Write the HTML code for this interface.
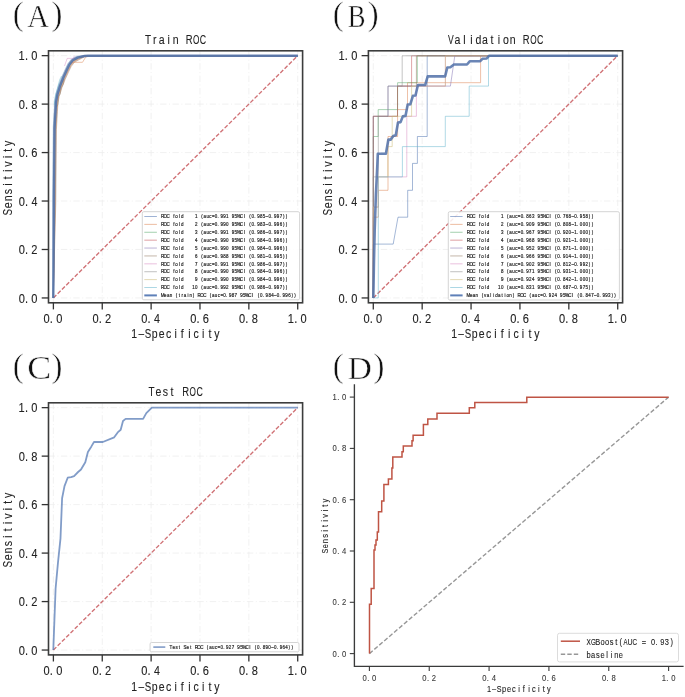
<!DOCTYPE html>
<html><head><meta charset="utf-8"><title>ROC curves</title>
<style>html,body{margin:0;padding:0;background:#fff;}svg{display:block;will-change:transform;}</style>
</head><body>
<svg width="685" height="697" viewBox="0 0 685 697">
<rect width="685" height="697" fill="#fff"/>
<line x1="53.39" y1="50.80" x2="53.39" y2="302.80" stroke="#eeeeee" stroke-width="0.8" stroke-dasharray="6.4,2.5,1,2.5"/>
<line x1="48.50" y1="297.95" x2="302.60" y2="297.95" stroke="#eeeeee" stroke-width="0.8" stroke-dasharray="6.4,2.5,1,2.5"/>
<line x1="102.25" y1="50.80" x2="102.25" y2="302.80" stroke="#eeeeee" stroke-width="0.8" stroke-dasharray="6.4,2.5,1,2.5"/>
<line x1="48.50" y1="249.49" x2="302.60" y2="249.49" stroke="#eeeeee" stroke-width="0.8" stroke-dasharray="6.4,2.5,1,2.5"/>
<line x1="151.12" y1="50.80" x2="151.12" y2="302.80" stroke="#eeeeee" stroke-width="0.8" stroke-dasharray="6.4,2.5,1,2.5"/>
<line x1="48.50" y1="201.03" x2="302.60" y2="201.03" stroke="#eeeeee" stroke-width="0.8" stroke-dasharray="6.4,2.5,1,2.5"/>
<line x1="199.98" y1="50.80" x2="199.98" y2="302.80" stroke="#eeeeee" stroke-width="0.8" stroke-dasharray="6.4,2.5,1,2.5"/>
<line x1="48.50" y1="152.57" x2="302.60" y2="152.57" stroke="#eeeeee" stroke-width="0.8" stroke-dasharray="6.4,2.5,1,2.5"/>
<line x1="248.85" y1="50.80" x2="248.85" y2="302.80" stroke="#eeeeee" stroke-width="0.8" stroke-dasharray="6.4,2.5,1,2.5"/>
<line x1="48.50" y1="104.11" x2="302.60" y2="104.11" stroke="#eeeeee" stroke-width="0.8" stroke-dasharray="6.4,2.5,1,2.5"/>
<line x1="297.71" y1="50.80" x2="297.71" y2="302.80" stroke="#eeeeee" stroke-width="0.8" stroke-dasharray="6.4,2.5,1,2.5"/>
<line x1="48.50" y1="55.65" x2="302.60" y2="55.65" stroke="#eeeeee" stroke-width="0.8" stroke-dasharray="6.4,2.5,1,2.5"/>
<path d="M53.39,297.95 L297.71,55.65" fill="none" stroke="#C44E52" stroke-width="1.35" stroke-opacity="0.8" stroke-dasharray="4.13,1.9" stroke-linejoin="round" stroke-linecap="butt"/>
<path d="M53.30,297.90 L53.10,199.10 L53.70,127.10 L54.70,109.10 L55.20,100.70 L56.50,93.80 L59.10,85.20 L62.50,76.60 L66.00,68.90 L68.50,63.70 L71.90,59.40 L76.90,56.70 L83.60,55.80 L87.10,55.80 L297.90,55.80" fill="none" stroke="#4C72B0" stroke-width="0.9" stroke-opacity="0.5" stroke-linejoin="round" stroke-linecap="butt"/>
<path d="M53.30,297.90 L54.90,200.90 L55.50,128.90 L56.50,110.90 L57.00,102.50 L58.30,95.60 L60.90,87.00 L64.30,78.40 L67.80,70.70 L70.30,65.50 L73.70,61.20 L78.70,58.50 L85.40,55.80 L88.90,55.80 L297.90,55.80" fill="none" stroke="#DD8452" stroke-width="0.9" stroke-opacity="0.5" stroke-linejoin="round" stroke-linecap="butt"/>
<path d="M53.30,297.90 L53.60,199.60 L54.20,127.60 L55.20,109.60 L55.70,101.20 L57.00,94.30 L59.60,85.70 L63.00,77.10 L66.50,69.40 L69.00,64.20 L72.40,59.90 L77.40,57.20 L84.10,55.80 L87.60,55.80 L297.90,55.80" fill="none" stroke="#55A868" stroke-width="0.9" stroke-opacity="0.5" stroke-linejoin="round" stroke-linecap="butt"/>
<path d="M53.30,297.90 L55.30,201.30 L55.90,129.30 L56.90,111.30 L57.40,102.90 L58.70,96.00 L61.30,87.40 L64.70,78.80 L68.20,71.10 L70.70,65.90 L74.10,61.60 L79.10,58.90 L85.80,55.80 L89.30,55.80 L297.90,55.80" fill="none" stroke="#C44E52" stroke-width="0.9" stroke-opacity="0.5" stroke-linejoin="round" stroke-linecap="butt"/>
<path d="M53.30,297.90 L54.30,200.30 L54.90,128.30 L55.90,110.30 L56.40,101.90 L57.70,95.00 L60.30,86.40 L63.70,77.80 L67.20,70.10 L69.70,64.90 L73.10,60.60 L78.10,57.90 L84.80,55.80 L88.30,55.80 L297.90,55.80" fill="none" stroke="#8172B3" stroke-width="0.9" stroke-opacity="0.5" stroke-linejoin="round" stroke-linecap="butt"/>
<path d="M53.30,297.90 L55.80,201.80 L56.40,129.80 L57.40,111.80 L57.90,103.40 L59.20,96.50 L61.80,87.90 L65.20,79.30 L68.70,71.60 L71.20,66.40 L74.60,62.10 L79.60,59.40 L86.30,55.80 L89.80,55.80 L297.90,55.80" fill="none" stroke="#937860" stroke-width="0.9" stroke-opacity="0.5" stroke-linejoin="round" stroke-linecap="butt"/>
<path d="M53.30,297.90 L52.90,198.90 L53.50,126.90 L54.50,108.90 L55.00,100.50 L56.30,93.60 L58.90,85.00 L62.30,76.40 L65.80,68.70 L68.30,63.50 L71.70,59.20 L76.70,56.50 L83.40,55.80 L86.90,55.80 L297.90,55.80" fill="none" stroke="#DA8BC3" stroke-width="0.9" stroke-opacity="0.5" stroke-linejoin="round" stroke-linecap="butt"/>
<path d="M53.30,297.90 L54.60,200.60 L55.20,128.60 L56.20,110.60 L56.70,102.20 L58.00,95.30 L60.60,86.70 L64.00,78.10 L67.50,70.40 L70.00,65.20 L73.40,60.90 L78.40,58.20 L85.10,55.80 L88.60,55.80 L297.90,55.80" fill="none" stroke="#8C8C8C" stroke-width="0.9" stroke-opacity="0.5" stroke-linejoin="round" stroke-linecap="butt"/>
<path d="M53.30,297.90 L55.10,201.10 L55.70,129.10 L56.70,111.10 L57.20,102.70 L58.50,95.80 L61.10,87.20 L64.50,78.60 L68.00,70.90 L70.50,65.70 L73.90,61.40 L78.90,58.70 L85.60,55.80 L89.10,55.80 L297.90,55.80" fill="none" stroke="#CCB974" stroke-width="0.9" stroke-opacity="0.5" stroke-linejoin="round" stroke-linecap="butt"/>
<path d="M53.30,297.90 L52.70,198.70 L53.30,126.70 L54.30,108.70 L54.80,100.30 L56.10,93.40 L58.70,84.80 L62.10,76.20 L65.60,68.50 L68.10,63.30 L71.50,59.00 L76.50,56.30 L83.20,55.80 L86.70,55.80 L297.90,55.80" fill="none" stroke="#64B5CD" stroke-width="0.9" stroke-opacity="0.5" stroke-linejoin="round" stroke-linecap="butt"/>
<path d="M70.50,63.50 L72.80,62.30 L82.50,62.30 L85.50,57.40 L88.00,55.90" fill="none" stroke="#DD8452" stroke-width="0.9" stroke-opacity="0.55" stroke-linejoin="round" stroke-linecap="butt"/>
<path d="M64.50,66.00 L67.20,58.40 L73.80,58.40 L74.20,55.80" fill="none" stroke="#DA8BC3" stroke-width="0.9" stroke-opacity="0.5" stroke-linejoin="round" stroke-linecap="butt"/>
<path d="M56.50,107.00 L58.20,104.00 L58.40,96.00 L60.30,94.00 L61.00,88.00 L63.50,84.00 L64.00,79.00" fill="none" stroke="#937860" stroke-width="0.9" stroke-opacity="0.45" stroke-linejoin="round" stroke-linecap="butt"/>
<path d="M54.20,105.00 L55.30,96.00 L57.50,88.00 L59.60,80.00 L61.50,76.00" fill="none" stroke="#64B5CD" stroke-width="0.9" stroke-opacity="0.5" stroke-linejoin="round" stroke-linecap="butt"/>
<path d="M53.30,297.90 L54.00,200.00 L54.60,128.00 L55.60,110.00 L56.10,101.60 L57.40,94.70 L60.00,86.10 L63.40,77.50 L66.90,69.80 L69.40,64.60 L72.80,60.30 L77.80,57.60 L84.50,56.00 L88.00,55.80 L297.90,55.80" fill="none" stroke="#5070A8" stroke-width="2.4" stroke-opacity="0.85" stroke-linejoin="round" stroke-linecap="butt"/>
<rect x="48.50" y="50.80" width="254.10" height="252.00" fill="none" stroke="#3c3d3d" stroke-width="1.6"/>
<line x1="53.39" y1="302.80" x2="53.39" y2="309.40" stroke="#333" stroke-width="1.3"/>
<line x1="48.50" y1="297.95" x2="41.70" y2="297.95" stroke="#333" stroke-width="1.3"/>
<g transform="translate(52.99 323.20)" font-family='"Liberation Sans", sans-serif' font-size="12.3" fill="#222" stroke="#222" stroke-width="0.1"><text transform="scale(0.900 1)" x="-10.43" y="0">0</text><text transform="scale(0.900 1)" x="-3.47" y="0">.</text><text transform="scale(0.900 1)" x="3.57" y="0">0</text></g>
<g transform="translate(37.50 302.75)" font-family='"Liberation Sans", sans-serif' font-size="12.3" fill="#222" stroke="#222" stroke-width="0.1"><text transform="scale(0.900 1)" x="-20.93" y="0">0</text><text transform="scale(0.900 1)" x="-13.97" y="0">.</text><text transform="scale(0.900 1)" x="-6.93" y="0">0</text></g>
<line x1="102.25" y1="302.80" x2="102.25" y2="309.40" stroke="#333" stroke-width="1.3"/>
<line x1="48.50" y1="249.49" x2="41.70" y2="249.49" stroke="#333" stroke-width="1.3"/>
<g transform="translate(101.85 323.20)" font-family='"Liberation Sans", sans-serif' font-size="12.3" fill="#222" stroke="#222" stroke-width="0.1"><text transform="scale(0.900 1)" x="-10.43" y="0">0</text><text transform="scale(0.900 1)" x="-3.47" y="0">.</text><text transform="scale(0.900 1)" x="3.59" y="0">2</text></g>
<g transform="translate(37.50 254.29)" font-family='"Liberation Sans", sans-serif' font-size="12.3" fill="#222" stroke="#222" stroke-width="0.1"><text transform="scale(0.900 1)" x="-20.93" y="0">0</text><text transform="scale(0.900 1)" x="-13.97" y="0">.</text><text transform="scale(0.900 1)" x="-6.91" y="0">2</text></g>
<line x1="151.12" y1="302.80" x2="151.12" y2="309.40" stroke="#333" stroke-width="1.3"/>
<line x1="48.50" y1="201.03" x2="41.70" y2="201.03" stroke="#333" stroke-width="1.3"/>
<g transform="translate(150.72 323.20)" font-family='"Liberation Sans", sans-serif' font-size="12.3" fill="#222" stroke="#222" stroke-width="0.1"><text transform="scale(0.900 1)" x="-10.43" y="0">0</text><text transform="scale(0.900 1)" x="-3.47" y="0">.</text><text transform="scale(0.869 1)" x="3.86" y="0">4</text></g>
<g transform="translate(37.50 205.83)" font-family='"Liberation Sans", sans-serif' font-size="12.3" fill="#222" stroke="#222" stroke-width="0.1"><text transform="scale(0.900 1)" x="-20.93" y="0">0</text><text transform="scale(0.900 1)" x="-13.97" y="0">.</text><text transform="scale(0.869 1)" x="-7.01" y="0">4</text></g>
<line x1="199.98" y1="302.80" x2="199.98" y2="309.40" stroke="#333" stroke-width="1.3"/>
<line x1="48.50" y1="152.57" x2="41.70" y2="152.57" stroke="#333" stroke-width="1.3"/>
<g transform="translate(199.58 323.20)" font-family='"Liberation Sans", sans-serif' font-size="12.3" fill="#222" stroke="#222" stroke-width="0.1"><text transform="scale(0.900 1)" x="-10.43" y="0">0</text><text transform="scale(0.900 1)" x="-3.47" y="0">.</text><text transform="scale(0.900 1)" x="3.54" y="0">6</text></g>
<g transform="translate(37.50 157.37)" font-family='"Liberation Sans", sans-serif' font-size="12.3" fill="#222" stroke="#222" stroke-width="0.1"><text transform="scale(0.900 1)" x="-20.93" y="0">0</text><text transform="scale(0.900 1)" x="-13.97" y="0">.</text><text transform="scale(0.900 1)" x="-6.96" y="0">6</text></g>
<line x1="248.85" y1="302.80" x2="248.85" y2="309.40" stroke="#333" stroke-width="1.3"/>
<line x1="48.50" y1="104.11" x2="41.70" y2="104.11" stroke="#333" stroke-width="1.3"/>
<g transform="translate(248.45 323.20)" font-family='"Liberation Sans", sans-serif' font-size="12.3" fill="#222" stroke="#222" stroke-width="0.1"><text transform="scale(0.900 1)" x="-10.43" y="0">0</text><text transform="scale(0.900 1)" x="-3.47" y="0">.</text><text transform="scale(0.900 1)" x="3.59" y="0">8</text></g>
<g transform="translate(37.50 108.91)" font-family='"Liberation Sans", sans-serif' font-size="12.3" fill="#222" stroke="#222" stroke-width="0.1"><text transform="scale(0.900 1)" x="-20.93" y="0">0</text><text transform="scale(0.900 1)" x="-13.97" y="0">.</text><text transform="scale(0.900 1)" x="-6.91" y="0">8</text></g>
<line x1="297.71" y1="302.80" x2="297.71" y2="309.40" stroke="#333" stroke-width="1.3"/>
<line x1="48.50" y1="55.65" x2="41.70" y2="55.65" stroke="#333" stroke-width="1.3"/>
<g transform="translate(297.31 323.20)" font-family='"Liberation Sans", sans-serif' font-size="12.3" fill="#222" stroke="#222" stroke-width="0.1"><text transform="scale(0.900 1)" x="-10.58" y="0">1</text><text transform="scale(0.900 1)" x="-3.47" y="0">.</text><text transform="scale(0.900 1)" x="3.57" y="0">0</text></g>
<g transform="translate(37.50 60.45)" font-family='"Liberation Sans", sans-serif' font-size="12.3" fill="#222" stroke="#222" stroke-width="0.1"><text transform="scale(0.900 1)" x="-21.08" y="0">1</text><text transform="scale(0.900 1)" x="-13.97" y="0">.</text><text transform="scale(0.900 1)" x="-6.93" y="0">0</text></g>
<g transform="translate(175.55 338.40)" font-family='"Liberation Sans", sans-serif' font-size="13.5" fill="#222" stroke="#222" stroke-width="0.1"><text transform="scale(0.780 1)" x="-56.85" y="0">1</text><text transform="scale(0.747 1)" x="-49.77" y="0">–</text><text transform="scale(0.721 1)" x="-42.64" y="0">S</text><text transform="scale(0.780 1)" x="-30.38" y="0">p</text><text transform="scale(0.780 1)" x="-21.39" y="0">e</text><text transform="scale(0.780 1)" x="-12.30" y="0">c</text><text transform="scale(0.780 1)" x="-1.50" y="0">i</text><text transform="scale(0.780 1)" x="6.83" y="0">f</text><text transform="scale(0.780 1)" x="16.14" y="0">i</text><text transform="scale(0.780 1)" x="22.99" y="0">c</text><text transform="scale(0.780 1)" x="33.78" y="0">i</text><text transform="scale(0.780 1)" x="42.18" y="0">t</text><text transform="scale(0.780 1)" x="49.55" y="0">y</text></g>
<g transform="translate(12.20 177.80) rotate(-90)" font-family='"Liberation Sans", sans-serif' font-size="13.5" fill="#222" stroke="#222" stroke-width="0.1"><text transform="scale(0.721 1)" x="-52.17" y="0">S</text><text transform="scale(0.780 1)" x="-39.03" y="0">e</text><text transform="scale(0.780 1)" x="-30.22" y="0">n</text><text transform="scale(0.780 1)" x="-20.97" y="0">s</text><text transform="scale(0.780 1)" x="-10.32" y="0">i</text><text transform="scale(0.780 1)" x="-1.92" y="0">t</text><text transform="scale(0.780 1)" x="7.32" y="0">i</text><text transform="scale(0.780 1)" x="14.27" y="0">v</text><text transform="scale(0.780 1)" x="24.96" y="0">i</text><text transform="scale(0.780 1)" x="33.36" y="0">t</text><text transform="scale(0.780 1)" x="40.73" y="0">y</text></g>
<g transform="translate(175.55 43.90)" font-family='"Liberation Sans", sans-serif' font-size="13.5" fill="#222" stroke="#222" stroke-width="0.1"><text transform="scale(0.734 1)" x="-41.60" y="0">T</text><text transform="scale(0.780 1)" x="-29.06" y="0">r</text><text transform="scale(0.780 1)" x="-21.67" y="0">a</text><text transform="scale(0.780 1)" x="-10.32" y="0">i</text><text transform="scale(0.780 1)" x="-3.76" y="0">n</text><text transform="scale(0.700 1)" x="14.54" y="0">R</text><text transform="scale(0.608 1)" x="28.71" y="0">O</text><text transform="scale(0.656 1)" x="37.02" y="0">C</text></g>
<rect x="142.30" y="211.70" width="157.30" height="88.10" rx="1.5" fill="#fff" fill-opacity="0.85" stroke="#d0d0d0" stroke-width="0.9"/>
<line x1="144.30" y1="216.50" x2="156.90" y2="216.50" stroke="#4C72B0" stroke-width="0.9" stroke-opacity="0.6"/>
<text transform="translate(161.10 218.20) scale(0.8 1)" x="-0.26 3.11 6.79 11.56 15.08 17.83 22.29 24.88 29.18 32.71 36.23 39.76 42.51 46.81 50.18 53.08 56.61 60.29 63.58 67.18 70.60 74.23 77.76 81.28 85.58 88.33 91.86 94.45 98.44 103.21 106.73 110.11 113.01 116.43 120.06 123.58 127.11 130.63 134.16 137.58 141.21 144.73 148.26 152.41 155.93" y="0" font-family='"Liberation Sans", sans-serif' font-size="5.6" fill="#2a2a2a" stroke="#2a2a2a" stroke-width="0.22" xml:space="preserve">ROC fold    1 (auc=0.991 95%CI (0.985–0.997))</text>
<line x1="144.30" y1="224.39" x2="156.90" y2="224.39" stroke="#DD8452" stroke-width="0.9" stroke-opacity="0.6"/>
<text transform="translate(161.10 226.09) scale(0.8 1)" x="-0.26 3.11 6.79 11.56 15.08 17.83 22.29 24.88 29.18 32.71 36.23 39.76 42.51 46.81 50.18 53.08 56.61 60.29 63.58 67.18 70.60 74.23 77.76 81.28 85.58 88.33 91.86 94.45 98.44 103.21 106.73 110.11 113.01 116.43 120.06 123.58 127.11 130.63 134.16 137.58 141.21 144.73 148.26 152.41 155.93" y="0" font-family='"Liberation Sans", sans-serif' font-size="5.6" fill="#2a2a2a" stroke="#2a2a2a" stroke-width="0.22" xml:space="preserve">ROC fold    2 (auc=0.990 95%CI (0.983–0.996))</text>
<line x1="144.30" y1="232.28" x2="156.90" y2="232.28" stroke="#55A868" stroke-width="0.9" stroke-opacity="0.6"/>
<text transform="translate(161.10 233.98) scale(0.8 1)" x="-0.26 3.11 6.79 11.56 15.08 17.83 22.29 24.88 29.18 32.71 36.23 39.76 42.51 46.81 50.18 53.08 56.61 60.29 63.58 67.18 70.60 74.23 77.76 81.28 85.58 88.33 91.86 94.45 98.44 103.21 106.73 110.11 113.01 116.43 120.06 123.58 127.11 130.63 134.16 137.58 141.21 144.73 148.26 152.41 155.93" y="0" font-family='"Liberation Sans", sans-serif' font-size="5.6" fill="#2a2a2a" stroke="#2a2a2a" stroke-width="0.22" xml:space="preserve">ROC fold    3 (auc=0.991 95%CI (0.986–0.997))</text>
<line x1="144.30" y1="240.17" x2="156.90" y2="240.17" stroke="#C44E52" stroke-width="0.9" stroke-opacity="0.6"/>
<text transform="translate(161.10 241.87) scale(0.8 1)" x="-0.26 3.11 6.79 11.56 15.08 17.83 22.29 24.88 29.18 32.71 36.23 39.76 42.51 46.81 50.18 53.08 56.61 60.29 63.58 67.18 70.60 74.23 77.76 81.28 85.58 88.33 91.86 94.45 98.44 103.21 106.73 110.11 113.01 116.43 120.06 123.58 127.11 130.63 134.16 137.58 141.21 144.73 148.26 152.41 155.93" y="0" font-family='"Liberation Sans", sans-serif' font-size="5.6" fill="#2a2a2a" stroke="#2a2a2a" stroke-width="0.22" xml:space="preserve">ROC fold    4 (auc=0.990 95%CI (0.984–0.996))</text>
<line x1="144.30" y1="248.06" x2="156.90" y2="248.06" stroke="#8172B3" stroke-width="0.9" stroke-opacity="0.6"/>
<text transform="translate(161.10 249.76) scale(0.8 1)" x="-0.26 3.11 6.79 11.56 15.08 17.83 22.29 24.88 29.18 32.71 36.23 39.76 42.51 46.81 50.18 53.08 56.61 60.29 63.58 67.18 70.60 74.23 77.76 81.28 85.58 88.33 91.86 94.45 98.44 103.21 106.73 110.11 113.01 116.43 120.06 123.58 127.11 130.63 134.16 137.58 141.21 144.73 148.26 152.41 155.93" y="0" font-family='"Liberation Sans", sans-serif' font-size="5.6" fill="#2a2a2a" stroke="#2a2a2a" stroke-width="0.22" xml:space="preserve">ROC fold    5 (auc=0.990 95%CI (0.984–0.996))</text>
<line x1="144.30" y1="255.95" x2="156.90" y2="255.95" stroke="#937860" stroke-width="0.9" stroke-opacity="0.6"/>
<text transform="translate(161.10 257.65) scale(0.8 1)" x="-0.26 3.11 6.79 11.56 15.08 17.83 22.29 24.88 29.18 32.71 36.23 39.76 42.51 46.81 50.18 53.08 56.61 60.29 63.58 67.18 70.60 74.23 77.76 81.28 85.58 88.33 91.86 94.45 98.44 103.21 106.73 110.11 113.01 116.43 120.06 123.58 127.11 130.63 134.16 137.58 141.21 144.73 148.26 152.41 155.93" y="0" font-family='"Liberation Sans", sans-serif' font-size="5.6" fill="#2a2a2a" stroke="#2a2a2a" stroke-width="0.22" xml:space="preserve">ROC fold    6 (auc=0.988 95%CI (0.981–0.995))</text>
<line x1="144.30" y1="263.84" x2="156.90" y2="263.84" stroke="#DA8BC3" stroke-width="0.9" stroke-opacity="0.6"/>
<text transform="translate(161.10 265.54) scale(0.8 1)" x="-0.26 3.11 6.79 11.56 15.08 17.83 22.29 24.88 29.18 32.71 36.23 39.76 42.51 46.81 50.18 53.08 56.61 60.29 63.58 67.18 70.60 74.23 77.76 81.28 85.58 88.33 91.86 94.45 98.44 103.21 106.73 110.11 113.01 116.43 120.06 123.58 127.11 130.63 134.16 137.58 141.21 144.73 148.26 152.41 155.93" y="0" font-family='"Liberation Sans", sans-serif' font-size="5.6" fill="#2a2a2a" stroke="#2a2a2a" stroke-width="0.22" xml:space="preserve">ROC fold    7 (auc=0.991 95%CI (0.986–0.997))</text>
<line x1="144.30" y1="271.73" x2="156.90" y2="271.73" stroke="#8C8C8C" stroke-width="0.9" stroke-opacity="0.6"/>
<text transform="translate(161.10 273.43) scale(0.8 1)" x="-0.26 3.11 6.79 11.56 15.08 17.83 22.29 24.88 29.18 32.71 36.23 39.76 42.51 46.81 50.18 53.08 56.61 60.29 63.58 67.18 70.60 74.23 77.76 81.28 85.58 88.33 91.86 94.45 98.44 103.21 106.73 110.11 113.01 116.43 120.06 123.58 127.11 130.63 134.16 137.58 141.21 144.73 148.26 152.41 155.93" y="0" font-family='"Liberation Sans", sans-serif' font-size="5.6" fill="#2a2a2a" stroke="#2a2a2a" stroke-width="0.22" xml:space="preserve">ROC fold    8 (auc=0.990 95%CI (0.984–0.996))</text>
<line x1="144.30" y1="279.62" x2="156.90" y2="279.62" stroke="#CCB974" stroke-width="0.9" stroke-opacity="0.6"/>
<text transform="translate(161.10 281.32) scale(0.8 1)" x="-0.26 3.11 6.79 11.56 15.08 17.83 22.29 24.88 29.18 32.71 36.23 39.76 42.51 46.81 50.18 53.08 56.61 60.29 63.58 67.18 70.60 74.23 77.76 81.28 85.58 88.33 91.86 94.45 98.44 103.21 106.73 110.11 113.01 116.43 120.06 123.58 127.11 130.63 134.16 137.58 141.21 144.73 148.26 152.41 155.93" y="0" font-family='"Liberation Sans", sans-serif' font-size="5.6" fill="#2a2a2a" stroke="#2a2a2a" stroke-width="0.22" xml:space="preserve">ROC fold    9 (auc=0.990 95%CI (0.984–0.996))</text>
<line x1="144.30" y1="287.51" x2="156.90" y2="287.51" stroke="#64B5CD" stroke-width="0.9" stroke-opacity="0.6"/>
<text transform="translate(161.10 289.21) scale(0.8 1)" x="-0.26 3.11 6.79 11.56 15.08 17.83 22.29 24.88 29.18 32.71 36.23 38.98 42.51 46.81 50.18 53.08 56.61 60.29 63.58 67.18 70.60 74.23 77.76 81.28 85.58 88.33 91.86 94.45 98.44 103.21 106.73 110.11 113.01 116.43 120.06 123.58 127.11 130.63 134.16 137.58 141.21 144.73 148.26 152.41 155.93" y="0" font-family='"Liberation Sans", sans-serif' font-size="5.6" fill="#2a2a2a" stroke="#2a2a2a" stroke-width="0.22" xml:space="preserve">ROC fold   10 (auc=0.992 95%CI (0.986–0.997))</text>
<line x1="144.30" y1="295.40" x2="156.90" y2="295.40" stroke="#4C72B0" stroke-width="2.0" stroke-opacity="0.9"/>
<text transform="translate(161.10 297.10) scale(0.8 1)" x="-0.57 3.73 7.26 10.78 15.08 18.46 22.13 25.51 28.41 32.87 35.46 39.61 43.28 45.57 48.93 52.62 57.38 60.76 63.66 67.18 70.86 74.15 77.76 81.18 84.81 88.33 91.86 96.16 98.91 102.43 105.02 109.02 113.78 117.31 120.68 123.58 127.00 130.63 134.16 137.68 141.21 144.73 148.15 151.78 155.31 158.83 162.98 166.51" y="0" font-family='"Liberation Sans", sans-serif' font-size="5.6" fill="#2a2a2a" stroke="#2a2a2a" stroke-width="0.22" xml:space="preserve">Mean (train) ROC (auc=0.987 95%CI (0.984–0.996))</text>
<line x1="373.29" y1="50.80" x2="373.29" y2="302.80" stroke="#eeeeee" stroke-width="0.8" stroke-dasharray="6.4,2.5,1,2.5"/>
<line x1="368.40" y1="297.95" x2="622.60" y2="297.95" stroke="#eeeeee" stroke-width="0.8" stroke-dasharray="6.4,2.5,1,2.5"/>
<line x1="422.17" y1="50.80" x2="422.17" y2="302.80" stroke="#eeeeee" stroke-width="0.8" stroke-dasharray="6.4,2.5,1,2.5"/>
<line x1="368.40" y1="249.49" x2="622.60" y2="249.49" stroke="#eeeeee" stroke-width="0.8" stroke-dasharray="6.4,2.5,1,2.5"/>
<line x1="471.06" y1="50.80" x2="471.06" y2="302.80" stroke="#eeeeee" stroke-width="0.8" stroke-dasharray="6.4,2.5,1,2.5"/>
<line x1="368.40" y1="201.03" x2="622.60" y2="201.03" stroke="#eeeeee" stroke-width="0.8" stroke-dasharray="6.4,2.5,1,2.5"/>
<line x1="519.94" y1="50.80" x2="519.94" y2="302.80" stroke="#eeeeee" stroke-width="0.8" stroke-dasharray="6.4,2.5,1,2.5"/>
<line x1="368.40" y1="152.57" x2="622.60" y2="152.57" stroke="#eeeeee" stroke-width="0.8" stroke-dasharray="6.4,2.5,1,2.5"/>
<line x1="568.83" y1="50.80" x2="568.83" y2="302.80" stroke="#eeeeee" stroke-width="0.8" stroke-dasharray="6.4,2.5,1,2.5"/>
<line x1="368.40" y1="104.11" x2="622.60" y2="104.11" stroke="#eeeeee" stroke-width="0.8" stroke-dasharray="6.4,2.5,1,2.5"/>
<line x1="617.71" y1="50.80" x2="617.71" y2="302.80" stroke="#eeeeee" stroke-width="0.8" stroke-dasharray="6.4,2.5,1,2.5"/>
<line x1="368.40" y1="55.65" x2="622.60" y2="55.65" stroke="#eeeeee" stroke-width="0.8" stroke-dasharray="6.4,2.5,1,2.5"/>
<path d="M373.29,297.95 L617.71,55.65" fill="none" stroke="#C44E52" stroke-width="1.35" stroke-opacity="0.8" stroke-dasharray="4.13,1.9" stroke-linejoin="round" stroke-linecap="butt"/>
<path d="M373.30,297.90 L373.30,244.10 L393.20,244.10 L398.00,217.20 L407.70,217.20 L407.70,190.30 L412.50,190.30 L412.50,163.40 L417.40,163.40 L417.40,136.50 L427.20,136.50 L427.20,55.80 L617.70,55.80" fill="none" stroke="#4C72B0" stroke-width="1.0" stroke-opacity="0.5" stroke-linejoin="round" stroke-linecap="butt"/>
<path d="M373.30,297.90 L373.30,217.20 L378.30,217.20 L378.30,190.30 L388.00,190.30 L388.00,136.50 L397.60,136.50 L397.60,109.60 L407.50,109.60 L407.50,82.70 L480.60,82.70 L480.60,55.80 L617.70,55.80" fill="none" stroke="#DD8452" stroke-width="1.0" stroke-opacity="0.5" stroke-linejoin="round" stroke-linecap="butt"/>
<path d="M373.30,297.90 L373.30,136.50 L378.20,136.50 L378.20,109.60 L397.60,109.60 L397.60,82.70 L417.30,82.70 L417.30,55.80 L617.70,55.80" fill="none" stroke="#55A868" stroke-width="1.0" stroke-opacity="0.5" stroke-linejoin="round" stroke-linecap="butt"/>
<path d="M373.30,297.90 L373.30,116.30 L397.50,116.30 L397.50,86.10 L411.60,86.10 L411.60,55.80 L617.70,55.80" fill="none" stroke="#C44E52" stroke-width="1.0" stroke-opacity="0.5" stroke-linejoin="round" stroke-linecap="butt"/>
<path d="M373.30,297.90 L373.30,116.30 L388.00,116.30 L388.00,86.10 L450.40,86.10 L454.80,55.80 L617.70,55.80" fill="none" stroke="#8172B3" stroke-width="1.0" stroke-opacity="0.5" stroke-linejoin="round" stroke-linecap="butt"/>
<path d="M373.30,297.90 L373.30,116.30 L397.50,116.30 L397.50,86.10 L416.40,86.10 L416.40,55.80 L617.70,55.80" fill="none" stroke="#937860" stroke-width="1.0" stroke-opacity="0.5" stroke-linejoin="round" stroke-linecap="butt"/>
<path d="M373.30,297.90 L373.30,207.10 L378.30,207.10 L378.30,176.90 L406.80,176.90 L406.80,116.30 L416.40,116.30 L416.40,86.10 L445.40,86.10 L445.40,55.80 L617.70,55.80" fill="none" stroke="#DA8BC3" stroke-width="1.0" stroke-opacity="0.5" stroke-linejoin="round" stroke-linecap="butt"/>
<path d="M373.30,297.90 L373.30,176.90 L378.30,176.90 L378.30,116.30 L388.00,116.30 L388.00,86.10 L402.20,86.10 L402.20,55.80 L617.70,55.80" fill="none" stroke="#8C8C8C" stroke-width="1.0" stroke-opacity="0.5" stroke-linejoin="round" stroke-linecap="butt"/>
<path d="M373.30,297.90 L373.30,207.10 L378.30,207.10 L378.30,176.90 L387.90,176.90 L387.90,146.60 L392.20,146.60 L392.20,116.30 L411.60,116.30 L411.60,86.10 L445.40,86.10 L445.40,55.80 L617.70,55.80" fill="none" stroke="#CCB974" stroke-width="1.0" stroke-opacity="0.5" stroke-linejoin="round" stroke-linecap="butt"/>
<path d="M373.30,297.90 L378.30,297.90 L378.30,176.90 L402.40,176.90 L402.40,146.60 L445.30,146.60 L445.30,116.30 L469.20,116.30 L469.20,86.10 L488.50,86.10 L488.50,55.80 L617.70,55.80" fill="none" stroke="#64B5CD" stroke-width="1.0" stroke-opacity="0.5" stroke-linejoin="round" stroke-linecap="butt"/>
<path d="M373.30,297.90 L374.00,260.00 L374.70,230.00 L375.90,194.60 L376.60,180.20 L377.30,165.90 L377.80,153.70 L385.90,153.70 L388.40,139.60 L390.60,139.60 L393.20,136.10 L395.80,135.20 L398.00,122.50 L400.60,122.10 L402.80,116.40 L405.50,115.90 L407.70,104.60 L410.30,104.30 L412.90,95.80 L415.50,95.50 L417.90,85.00 L425.20,84.90 L427.70,76.40 L445.10,76.40 L447.30,67.50 L450.40,67.20 L453.90,64.50 L467.00,64.50 L469.70,61.30 L480.20,61.20 L482.40,58.80 L486.70,58.50 L489.00,55.80 L617.70,55.80" fill="none" stroke="#5070A8" stroke-width="2.6" stroke-opacity="0.85" stroke-linejoin="round" stroke-linecap="butt"/>
<rect x="368.40" y="50.80" width="254.20" height="252.00" fill="none" stroke="#3c3d3d" stroke-width="1.6"/>
<line x1="373.29" y1="302.80" x2="373.29" y2="309.40" stroke="#333" stroke-width="1.3"/>
<line x1="368.40" y1="297.95" x2="361.60" y2="297.95" stroke="#333" stroke-width="1.3"/>
<g transform="translate(372.89 323.20)" font-family='"Liberation Sans", sans-serif' font-size="12.3" fill="#222" stroke="#222" stroke-width="0.1"><text transform="scale(0.900 1)" x="-10.43" y="0">0</text><text transform="scale(0.900 1)" x="-3.47" y="0">.</text><text transform="scale(0.900 1)" x="3.57" y="0">0</text></g>
<g transform="translate(357.40 302.75)" font-family='"Liberation Sans", sans-serif' font-size="12.3" fill="#222" stroke="#222" stroke-width="0.1"><text transform="scale(0.900 1)" x="-20.93" y="0">0</text><text transform="scale(0.900 1)" x="-13.97" y="0">.</text><text transform="scale(0.900 1)" x="-6.93" y="0">0</text></g>
<line x1="422.17" y1="302.80" x2="422.17" y2="309.40" stroke="#333" stroke-width="1.3"/>
<line x1="368.40" y1="249.49" x2="361.60" y2="249.49" stroke="#333" stroke-width="1.3"/>
<g transform="translate(421.77 323.20)" font-family='"Liberation Sans", sans-serif' font-size="12.3" fill="#222" stroke="#222" stroke-width="0.1"><text transform="scale(0.900 1)" x="-10.43" y="0">0</text><text transform="scale(0.900 1)" x="-3.47" y="0">.</text><text transform="scale(0.900 1)" x="3.59" y="0">2</text></g>
<g transform="translate(357.40 254.29)" font-family='"Liberation Sans", sans-serif' font-size="12.3" fill="#222" stroke="#222" stroke-width="0.1"><text transform="scale(0.900 1)" x="-20.93" y="0">0</text><text transform="scale(0.900 1)" x="-13.97" y="0">.</text><text transform="scale(0.900 1)" x="-6.91" y="0">2</text></g>
<line x1="471.06" y1="302.80" x2="471.06" y2="309.40" stroke="#333" stroke-width="1.3"/>
<line x1="368.40" y1="201.03" x2="361.60" y2="201.03" stroke="#333" stroke-width="1.3"/>
<g transform="translate(470.66 323.20)" font-family='"Liberation Sans", sans-serif' font-size="12.3" fill="#222" stroke="#222" stroke-width="0.1"><text transform="scale(0.900 1)" x="-10.43" y="0">0</text><text transform="scale(0.900 1)" x="-3.47" y="0">.</text><text transform="scale(0.869 1)" x="3.86" y="0">4</text></g>
<g transform="translate(357.40 205.83)" font-family='"Liberation Sans", sans-serif' font-size="12.3" fill="#222" stroke="#222" stroke-width="0.1"><text transform="scale(0.900 1)" x="-20.93" y="0">0</text><text transform="scale(0.900 1)" x="-13.97" y="0">.</text><text transform="scale(0.869 1)" x="-7.01" y="0">4</text></g>
<line x1="519.94" y1="302.80" x2="519.94" y2="309.40" stroke="#333" stroke-width="1.3"/>
<line x1="368.40" y1="152.57" x2="361.60" y2="152.57" stroke="#333" stroke-width="1.3"/>
<g transform="translate(519.54 323.20)" font-family='"Liberation Sans", sans-serif' font-size="12.3" fill="#222" stroke="#222" stroke-width="0.1"><text transform="scale(0.900 1)" x="-10.43" y="0">0</text><text transform="scale(0.900 1)" x="-3.47" y="0">.</text><text transform="scale(0.900 1)" x="3.54" y="0">6</text></g>
<g transform="translate(357.40 157.37)" font-family='"Liberation Sans", sans-serif' font-size="12.3" fill="#222" stroke="#222" stroke-width="0.1"><text transform="scale(0.900 1)" x="-20.93" y="0">0</text><text transform="scale(0.900 1)" x="-13.97" y="0">.</text><text transform="scale(0.900 1)" x="-6.96" y="0">6</text></g>
<line x1="568.83" y1="302.80" x2="568.83" y2="309.40" stroke="#333" stroke-width="1.3"/>
<line x1="368.40" y1="104.11" x2="361.60" y2="104.11" stroke="#333" stroke-width="1.3"/>
<g transform="translate(568.43 323.20)" font-family='"Liberation Sans", sans-serif' font-size="12.3" fill="#222" stroke="#222" stroke-width="0.1"><text transform="scale(0.900 1)" x="-10.43" y="0">0</text><text transform="scale(0.900 1)" x="-3.47" y="0">.</text><text transform="scale(0.900 1)" x="3.59" y="0">8</text></g>
<g transform="translate(357.40 108.91)" font-family='"Liberation Sans", sans-serif' font-size="12.3" fill="#222" stroke="#222" stroke-width="0.1"><text transform="scale(0.900 1)" x="-20.93" y="0">0</text><text transform="scale(0.900 1)" x="-13.97" y="0">.</text><text transform="scale(0.900 1)" x="-6.91" y="0">8</text></g>
<line x1="617.71" y1="302.80" x2="617.71" y2="309.40" stroke="#333" stroke-width="1.3"/>
<line x1="368.40" y1="55.65" x2="361.60" y2="55.65" stroke="#333" stroke-width="1.3"/>
<g transform="translate(617.31 323.20)" font-family='"Liberation Sans", sans-serif' font-size="12.3" fill="#222" stroke="#222" stroke-width="0.1"><text transform="scale(0.900 1)" x="-10.58" y="0">1</text><text transform="scale(0.900 1)" x="-3.47" y="0">.</text><text transform="scale(0.900 1)" x="3.57" y="0">0</text></g>
<g transform="translate(357.40 60.45)" font-family='"Liberation Sans", sans-serif' font-size="12.3" fill="#222" stroke="#222" stroke-width="0.1"><text transform="scale(0.900 1)" x="-21.08" y="0">1</text><text transform="scale(0.900 1)" x="-13.97" y="0">.</text><text transform="scale(0.900 1)" x="-6.93" y="0">0</text></g>
<g transform="translate(495.50 338.40)" font-family='"Liberation Sans", sans-serif' font-size="13.5" fill="#222" stroke="#222" stroke-width="0.1"><text transform="scale(0.780 1)" x="-56.85" y="0">1</text><text transform="scale(0.747 1)" x="-49.77" y="0">–</text><text transform="scale(0.721 1)" x="-42.64" y="0">S</text><text transform="scale(0.780 1)" x="-30.38" y="0">p</text><text transform="scale(0.780 1)" x="-21.39" y="0">e</text><text transform="scale(0.780 1)" x="-12.30" y="0">c</text><text transform="scale(0.780 1)" x="-1.50" y="0">i</text><text transform="scale(0.780 1)" x="6.83" y="0">f</text><text transform="scale(0.780 1)" x="16.14" y="0">i</text><text transform="scale(0.780 1)" x="22.99" y="0">c</text><text transform="scale(0.780 1)" x="33.78" y="0">i</text><text transform="scale(0.780 1)" x="42.18" y="0">t</text><text transform="scale(0.780 1)" x="49.55" y="0">y</text></g>
<g transform="translate(332.10 177.80) rotate(-90)" font-family='"Liberation Sans", sans-serif' font-size="13.5" fill="#222" stroke="#222" stroke-width="0.1"><text transform="scale(0.721 1)" x="-52.17" y="0">S</text><text transform="scale(0.780 1)" x="-39.03" y="0">e</text><text transform="scale(0.780 1)" x="-30.22" y="0">n</text><text transform="scale(0.780 1)" x="-20.97" y="0">s</text><text transform="scale(0.780 1)" x="-10.32" y="0">i</text><text transform="scale(0.780 1)" x="-1.92" y="0">t</text><text transform="scale(0.780 1)" x="7.32" y="0">i</text><text transform="scale(0.780 1)" x="14.27" y="0">v</text><text transform="scale(0.780 1)" x="24.96" y="0">i</text><text transform="scale(0.780 1)" x="33.36" y="0">t</text><text transform="scale(0.780 1)" x="40.73" y="0">y</text></g>
<g transform="translate(495.50 43.90)" font-family='"Liberation Sans", sans-serif' font-size="13.5" fill="#222" stroke="#222" stroke-width="0.1"><text transform="scale(0.631 1)" x="-75.39" y="0">V</text><text transform="scale(0.780 1)" x="-52.55" y="0">a</text><text transform="scale(0.780 1)" x="-41.19" y="0">l</text><text transform="scale(0.780 1)" x="-32.37" y="0">i</text><text transform="scale(0.780 1)" x="-25.66" y="0">d</text><text transform="scale(0.780 1)" x="-17.26" y="0">a</text><text transform="scale(0.780 1)" x="-6.33" y="0">t</text><text transform="scale(0.780 1)" x="2.91" y="0">i</text><text transform="scale(0.780 1)" x="9.47" y="0">o</text><text transform="scale(0.780 1)" x="18.29" y="0">n</text><text transform="scale(0.700 1)" x="39.11" y="0">R</text><text transform="scale(0.608 1)" x="57.01" y="0">O</text><text transform="scale(0.656 1)" x="63.24" y="0">C</text></g>
<rect x="448.30" y="211.70" width="171.10" height="88.30" rx="1.5" fill="#fff" fill-opacity="0.85" stroke="#d0d0d0" stroke-width="0.9"/>
<line x1="450.20" y1="216.50" x2="462.60" y2="216.50" stroke="#4C72B0" stroke-width="0.9" stroke-opacity="0.6"/>
<text transform="translate(466.90 218.20) scale(0.8 1)" x="-0.26 3.11 6.79 11.56 15.08 17.83 22.29 24.88 29.18 32.71 36.23 39.76 42.51 46.81 50.18 53.08 56.61 60.29 63.58 67.18 70.60 74.23 77.76 81.28 85.58 88.33 91.86 94.45 98.44 103.21 106.73 110.11 113.01 116.43 120.06 123.58 127.11 130.63 134.16 137.58 141.21 144.73 148.26 152.41 155.93" y="0" font-family='"Liberation Sans", sans-serif' font-size="5.6" fill="#2a2a2a" stroke="#2a2a2a" stroke-width="0.22" xml:space="preserve">ROC fold    1 (auc=0.863 95%CI (0.768–0.958))</text>
<line x1="450.20" y1="224.39" x2="462.60" y2="224.39" stroke="#DD8452" stroke-width="0.9" stroke-opacity="0.6"/>
<text transform="translate(466.90 226.09) scale(0.8 1)" x="-0.26 3.11 6.79 11.56 15.08 17.83 22.29 24.88 29.18 32.71 36.23 39.76 42.51 46.81 50.18 53.08 56.61 60.29 63.58 67.18 70.60 74.23 77.76 81.28 85.58 88.33 91.86 94.45 98.44 103.21 106.73 110.11 113.01 116.43 120.06 123.58 127.11 130.63 134.16 137.58 141.21 144.73 148.26 152.41 155.93" y="0" font-family='"Liberation Sans", sans-serif' font-size="5.6" fill="#2a2a2a" stroke="#2a2a2a" stroke-width="0.22" xml:space="preserve">ROC fold    2 (auc=0.909 95%CI (0.808–1.000))</text>
<line x1="450.20" y1="232.28" x2="462.60" y2="232.28" stroke="#55A868" stroke-width="0.9" stroke-opacity="0.6"/>
<text transform="translate(466.90 233.98) scale(0.8 1)" x="-0.26 3.11 6.79 11.56 15.08 17.83 22.29 24.88 29.18 32.71 36.23 39.76 42.51 46.81 50.18 53.08 56.61 60.29 63.58 67.18 70.60 74.23 77.76 81.28 85.58 88.33 91.86 94.45 98.44 103.21 106.73 110.11 113.01 116.43 120.06 123.58 127.11 130.63 134.16 137.58 141.21 144.73 148.26 152.41 155.93" y="0" font-family='"Liberation Sans", sans-serif' font-size="5.6" fill="#2a2a2a" stroke="#2a2a2a" stroke-width="0.22" xml:space="preserve">ROC fold    3 (auc=0.967 95%CI (0.920–1.000))</text>
<line x1="450.20" y1="240.17" x2="462.60" y2="240.17" stroke="#C44E52" stroke-width="0.9" stroke-opacity="0.6"/>
<text transform="translate(466.90 241.87) scale(0.8 1)" x="-0.26 3.11 6.79 11.56 15.08 17.83 22.29 24.88 29.18 32.71 36.23 39.76 42.51 46.81 50.18 53.08 56.61 60.29 63.58 67.18 70.60 74.23 77.76 81.28 85.58 88.33 91.86 94.45 98.44 103.21 106.73 110.11 113.01 116.43 120.06 123.58 127.11 130.63 134.16 137.58 141.21 144.73 148.26 152.41 155.93" y="0" font-family='"Liberation Sans", sans-serif' font-size="5.6" fill="#2a2a2a" stroke="#2a2a2a" stroke-width="0.22" xml:space="preserve">ROC fold    4 (auc=0.968 95%CI (0.921–1.000))</text>
<line x1="450.20" y1="248.06" x2="462.60" y2="248.06" stroke="#8172B3" stroke-width="0.9" stroke-opacity="0.6"/>
<text transform="translate(466.90 249.76) scale(0.8 1)" x="-0.26 3.11 6.79 11.56 15.08 17.83 22.29 24.88 29.18 32.71 36.23 39.76 42.51 46.81 50.18 53.08 56.61 60.29 63.58 67.18 70.60 74.23 77.76 81.28 85.58 88.33 91.86 94.45 98.44 103.21 106.73 110.11 113.01 116.43 120.06 123.58 127.11 130.63 134.16 137.58 141.21 144.73 148.26 152.41 155.93" y="0" font-family='"Liberation Sans", sans-serif' font-size="5.6" fill="#2a2a2a" stroke="#2a2a2a" stroke-width="0.22" xml:space="preserve">ROC fold    5 (auc=0.952 95%CI (0.871–1.000))</text>
<line x1="450.20" y1="255.95" x2="462.60" y2="255.95" stroke="#937860" stroke-width="0.9" stroke-opacity="0.6"/>
<text transform="translate(466.90 257.65) scale(0.8 1)" x="-0.26 3.11 6.79 11.56 15.08 17.83 22.29 24.88 29.18 32.71 36.23 39.76 42.51 46.81 50.18 53.08 56.61 60.29 63.58 67.18 70.60 74.23 77.76 81.28 85.58 88.33 91.86 94.45 98.44 103.21 106.73 110.11 113.01 116.43 120.06 123.58 127.11 130.63 134.16 137.58 141.21 144.73 148.26 152.41 155.93" y="0" font-family='"Liberation Sans", sans-serif' font-size="5.6" fill="#2a2a2a" stroke="#2a2a2a" stroke-width="0.22" xml:space="preserve">ROC fold    6 (auc=0.966 95%CI (0.914–1.000))</text>
<line x1="450.20" y1="263.84" x2="462.60" y2="263.84" stroke="#DA8BC3" stroke-width="0.9" stroke-opacity="0.6"/>
<text transform="translate(466.90 265.54) scale(0.8 1)" x="-0.26 3.11 6.79 11.56 15.08 17.83 22.29 24.88 29.18 32.71 36.23 39.76 42.51 46.81 50.18 53.08 56.61 60.29 63.58 67.18 70.60 74.23 77.76 81.28 85.58 88.33 91.86 94.45 98.44 103.21 106.73 110.11 113.01 116.43 120.06 123.58 127.11 130.63 134.16 137.58 141.21 144.73 148.26 152.41 155.93" y="0" font-family='"Liberation Sans", sans-serif' font-size="5.6" fill="#2a2a2a" stroke="#2a2a2a" stroke-width="0.22" xml:space="preserve">ROC fold    7 (auc=0.902 95%CI (0.812–0.992))</text>
<line x1="450.20" y1="271.73" x2="462.60" y2="271.73" stroke="#8C8C8C" stroke-width="0.9" stroke-opacity="0.6"/>
<text transform="translate(466.90 273.43) scale(0.8 1)" x="-0.26 3.11 6.79 11.56 15.08 17.83 22.29 24.88 29.18 32.71 36.23 39.76 42.51 46.81 50.18 53.08 56.61 60.29 63.58 67.18 70.60 74.23 77.76 81.28 85.58 88.33 91.86 94.45 98.44 103.21 106.73 110.11 113.01 116.43 120.06 123.58 127.11 130.63 134.16 137.58 141.21 144.73 148.26 152.41 155.93" y="0" font-family='"Liberation Sans", sans-serif' font-size="5.6" fill="#2a2a2a" stroke="#2a2a2a" stroke-width="0.22" xml:space="preserve">ROC fold    8 (auc=0.971 95%CI (0.931–1.000))</text>
<line x1="450.20" y1="279.62" x2="462.60" y2="279.62" stroke="#CCB974" stroke-width="0.9" stroke-opacity="0.6"/>
<text transform="translate(466.90 281.32) scale(0.8 1)" x="-0.26 3.11 6.79 11.56 15.08 17.83 22.29 24.88 29.18 32.71 36.23 39.76 42.51 46.81 50.18 53.08 56.61 60.29 63.58 67.18 70.60 74.23 77.76 81.28 85.58 88.33 91.86 94.45 98.44 103.21 106.73 110.11 113.01 116.43 120.06 123.58 127.11 130.63 134.16 137.58 141.21 144.73 148.26 152.41 155.93" y="0" font-family='"Liberation Sans", sans-serif' font-size="5.6" fill="#2a2a2a" stroke="#2a2a2a" stroke-width="0.22" xml:space="preserve">ROC fold    9 (auc=0.924 95%CI (0.842–1.000))</text>
<line x1="450.20" y1="287.51" x2="462.60" y2="287.51" stroke="#64B5CD" stroke-width="0.9" stroke-opacity="0.6"/>
<text transform="translate(466.90 289.21) scale(0.8 1)" x="-0.26 3.11 6.79 11.56 15.08 17.83 22.29 24.88 29.18 32.71 36.23 38.98 42.51 46.81 50.18 53.08 56.61 60.29 63.58 67.18 70.60 74.23 77.76 81.28 85.58 88.33 91.86 94.45 98.44 103.21 106.73 110.11 113.01 116.43 120.06 123.58 127.11 130.63 134.16 137.58 141.21 144.73 148.26 152.41 155.93" y="0" font-family='"Liberation Sans", sans-serif' font-size="5.6" fill="#2a2a2a" stroke="#2a2a2a" stroke-width="0.22" xml:space="preserve">ROC fold   10 (auc=0.831 95%CI (0.687–0.975))</text>
<line x1="450.20" y1="295.40" x2="462.60" y2="295.40" stroke="#4C72B0" stroke-width="2.0" stroke-opacity="0.9"/>
<text transform="translate(466.90 297.10) scale(0.8 1)" x="-0.57 3.73 7.26 10.78 15.08 18.46 21.51 24.88 29.34 32.87 35.46 38.98 43.28 46.97 49.56 53.08 57.23 60.91 63.19 66.56 70.24 75.01 78.38 81.28 84.81 88.49 91.78 95.38 98.80 102.43 105.96 109.48 113.78 116.53 120.06 122.65 126.64 131.41 134.93 138.31 141.21 144.63 148.26 151.78 155.31 158.83 162.36 165.78 169.41 172.93 176.46 180.61 184.13" y="0" font-family='"Liberation Sans", sans-serif' font-size="5.6" fill="#2a2a2a" stroke="#2a2a2a" stroke-width="0.22" xml:space="preserve">Mean (validation) ROC (auc=0.924 95%CI (0.847–0.993))</text>
<line x1="53.39" y1="402.80" x2="53.39" y2="654.90" stroke="#eeeeee" stroke-width="0.8" stroke-dasharray="6.4,2.5,1,2.5"/>
<line x1="48.50" y1="650.05" x2="302.60" y2="650.05" stroke="#eeeeee" stroke-width="0.8" stroke-dasharray="6.4,2.5,1,2.5"/>
<line x1="102.25" y1="402.80" x2="102.25" y2="654.90" stroke="#eeeeee" stroke-width="0.8" stroke-dasharray="6.4,2.5,1,2.5"/>
<line x1="48.50" y1="601.57" x2="302.60" y2="601.57" stroke="#eeeeee" stroke-width="0.8" stroke-dasharray="6.4,2.5,1,2.5"/>
<line x1="151.12" y1="402.80" x2="151.12" y2="654.90" stroke="#eeeeee" stroke-width="0.8" stroke-dasharray="6.4,2.5,1,2.5"/>
<line x1="48.50" y1="553.09" x2="302.60" y2="553.09" stroke="#eeeeee" stroke-width="0.8" stroke-dasharray="6.4,2.5,1,2.5"/>
<line x1="199.98" y1="402.80" x2="199.98" y2="654.90" stroke="#eeeeee" stroke-width="0.8" stroke-dasharray="6.4,2.5,1,2.5"/>
<line x1="48.50" y1="504.61" x2="302.60" y2="504.61" stroke="#eeeeee" stroke-width="0.8" stroke-dasharray="6.4,2.5,1,2.5"/>
<line x1="248.85" y1="402.80" x2="248.85" y2="654.90" stroke="#eeeeee" stroke-width="0.8" stroke-dasharray="6.4,2.5,1,2.5"/>
<line x1="48.50" y1="456.13" x2="302.60" y2="456.13" stroke="#eeeeee" stroke-width="0.8" stroke-dasharray="6.4,2.5,1,2.5"/>
<line x1="297.71" y1="402.80" x2="297.71" y2="654.90" stroke="#eeeeee" stroke-width="0.8" stroke-dasharray="6.4,2.5,1,2.5"/>
<line x1="48.50" y1="407.65" x2="302.60" y2="407.65" stroke="#eeeeee" stroke-width="0.8" stroke-dasharray="6.4,2.5,1,2.5"/>
<path d="M53.39,650.05 L297.71,407.65" fill="none" stroke="#C44E52" stroke-width="1.35" stroke-opacity="0.8" stroke-dasharray="4.13,1.9" stroke-linejoin="round" stroke-linecap="butt"/>
<path d="M53.30,650.00 L55.60,588.50 L58.00,562.40 L60.50,538.30 L62.10,498.20 L64.50,486.10 L67.70,477.70 L71.10,477.10 L74.10,476.10 L78.10,472.00 L81.00,469.50 L85.30,462.20 L87.90,452.00 L91.40,446.40 L94.00,442.00 L102.80,442.00 L114.20,437.30 L117.70,432.40 L120.70,429.80 L123.00,421.00 L125.60,418.90 L143.10,418.90 L146.30,413.10 L151.90,407.60 L297.90,407.60" fill="none" stroke="#4C72B0" stroke-width="1.8" stroke-opacity="0.7" stroke-linejoin="round" stroke-linecap="butt"/>
<rect x="48.50" y="402.80" width="254.10" height="252.10" fill="none" stroke="#3c3d3d" stroke-width="1.6"/>
<line x1="53.39" y1="654.90" x2="53.39" y2="661.50" stroke="#333" stroke-width="1.3"/>
<line x1="48.50" y1="650.05" x2="41.70" y2="650.05" stroke="#333" stroke-width="1.3"/>
<g transform="translate(52.99 675.30)" font-family='"Liberation Sans", sans-serif' font-size="12.3" fill="#222" stroke="#222" stroke-width="0.1"><text transform="scale(0.900 1)" x="-10.43" y="0">0</text><text transform="scale(0.900 1)" x="-3.47" y="0">.</text><text transform="scale(0.900 1)" x="3.57" y="0">0</text></g>
<g transform="translate(37.50 654.85)" font-family='"Liberation Sans", sans-serif' font-size="12.3" fill="#222" stroke="#222" stroke-width="0.1"><text transform="scale(0.900 1)" x="-20.93" y="0">0</text><text transform="scale(0.900 1)" x="-13.97" y="0">.</text><text transform="scale(0.900 1)" x="-6.93" y="0">0</text></g>
<line x1="102.25" y1="654.90" x2="102.25" y2="661.50" stroke="#333" stroke-width="1.3"/>
<line x1="48.50" y1="601.57" x2="41.70" y2="601.57" stroke="#333" stroke-width="1.3"/>
<g transform="translate(101.85 675.30)" font-family='"Liberation Sans", sans-serif' font-size="12.3" fill="#222" stroke="#222" stroke-width="0.1"><text transform="scale(0.900 1)" x="-10.43" y="0">0</text><text transform="scale(0.900 1)" x="-3.47" y="0">.</text><text transform="scale(0.900 1)" x="3.59" y="0">2</text></g>
<g transform="translate(37.50 606.37)" font-family='"Liberation Sans", sans-serif' font-size="12.3" fill="#222" stroke="#222" stroke-width="0.1"><text transform="scale(0.900 1)" x="-20.93" y="0">0</text><text transform="scale(0.900 1)" x="-13.97" y="0">.</text><text transform="scale(0.900 1)" x="-6.91" y="0">2</text></g>
<line x1="151.12" y1="654.90" x2="151.12" y2="661.50" stroke="#333" stroke-width="1.3"/>
<line x1="48.50" y1="553.09" x2="41.70" y2="553.09" stroke="#333" stroke-width="1.3"/>
<g transform="translate(150.72 675.30)" font-family='"Liberation Sans", sans-serif' font-size="12.3" fill="#222" stroke="#222" stroke-width="0.1"><text transform="scale(0.900 1)" x="-10.43" y="0">0</text><text transform="scale(0.900 1)" x="-3.47" y="0">.</text><text transform="scale(0.869 1)" x="3.86" y="0">4</text></g>
<g transform="translate(37.50 557.89)" font-family='"Liberation Sans", sans-serif' font-size="12.3" fill="#222" stroke="#222" stroke-width="0.1"><text transform="scale(0.900 1)" x="-20.93" y="0">0</text><text transform="scale(0.900 1)" x="-13.97" y="0">.</text><text transform="scale(0.869 1)" x="-7.01" y="0">4</text></g>
<line x1="199.98" y1="654.90" x2="199.98" y2="661.50" stroke="#333" stroke-width="1.3"/>
<line x1="48.50" y1="504.61" x2="41.70" y2="504.61" stroke="#333" stroke-width="1.3"/>
<g transform="translate(199.58 675.30)" font-family='"Liberation Sans", sans-serif' font-size="12.3" fill="#222" stroke="#222" stroke-width="0.1"><text transform="scale(0.900 1)" x="-10.43" y="0">0</text><text transform="scale(0.900 1)" x="-3.47" y="0">.</text><text transform="scale(0.900 1)" x="3.54" y="0">6</text></g>
<g transform="translate(37.50 509.41)" font-family='"Liberation Sans", sans-serif' font-size="12.3" fill="#222" stroke="#222" stroke-width="0.1"><text transform="scale(0.900 1)" x="-20.93" y="0">0</text><text transform="scale(0.900 1)" x="-13.97" y="0">.</text><text transform="scale(0.900 1)" x="-6.96" y="0">6</text></g>
<line x1="248.85" y1="654.90" x2="248.85" y2="661.50" stroke="#333" stroke-width="1.3"/>
<line x1="48.50" y1="456.13" x2="41.70" y2="456.13" stroke="#333" stroke-width="1.3"/>
<g transform="translate(248.45 675.30)" font-family='"Liberation Sans", sans-serif' font-size="12.3" fill="#222" stroke="#222" stroke-width="0.1"><text transform="scale(0.900 1)" x="-10.43" y="0">0</text><text transform="scale(0.900 1)" x="-3.47" y="0">.</text><text transform="scale(0.900 1)" x="3.59" y="0">8</text></g>
<g transform="translate(37.50 460.93)" font-family='"Liberation Sans", sans-serif' font-size="12.3" fill="#222" stroke="#222" stroke-width="0.1"><text transform="scale(0.900 1)" x="-20.93" y="0">0</text><text transform="scale(0.900 1)" x="-13.97" y="0">.</text><text transform="scale(0.900 1)" x="-6.91" y="0">8</text></g>
<line x1="297.71" y1="654.90" x2="297.71" y2="661.50" stroke="#333" stroke-width="1.3"/>
<line x1="48.50" y1="407.65" x2="41.70" y2="407.65" stroke="#333" stroke-width="1.3"/>
<g transform="translate(297.31 675.30)" font-family='"Liberation Sans", sans-serif' font-size="12.3" fill="#222" stroke="#222" stroke-width="0.1"><text transform="scale(0.900 1)" x="-10.58" y="0">1</text><text transform="scale(0.900 1)" x="-3.47" y="0">.</text><text transform="scale(0.900 1)" x="3.57" y="0">0</text></g>
<g transform="translate(37.50 412.45)" font-family='"Liberation Sans", sans-serif' font-size="12.3" fill="#222" stroke="#222" stroke-width="0.1"><text transform="scale(0.900 1)" x="-21.08" y="0">1</text><text transform="scale(0.900 1)" x="-13.97" y="0">.</text><text transform="scale(0.900 1)" x="-6.93" y="0">0</text></g>
<g transform="translate(175.55 690.50)" font-family='"Liberation Sans", sans-serif' font-size="13.5" fill="#222" stroke="#222" stroke-width="0.1"><text transform="scale(0.780 1)" x="-56.85" y="0">1</text><text transform="scale(0.747 1)" x="-49.77" y="0">–</text><text transform="scale(0.721 1)" x="-42.64" y="0">S</text><text transform="scale(0.780 1)" x="-30.38" y="0">p</text><text transform="scale(0.780 1)" x="-21.39" y="0">e</text><text transform="scale(0.780 1)" x="-12.30" y="0">c</text><text transform="scale(0.780 1)" x="-1.50" y="0">i</text><text transform="scale(0.780 1)" x="6.83" y="0">f</text><text transform="scale(0.780 1)" x="16.14" y="0">i</text><text transform="scale(0.780 1)" x="22.99" y="0">c</text><text transform="scale(0.780 1)" x="33.78" y="0">i</text><text transform="scale(0.780 1)" x="42.18" y="0">t</text><text transform="scale(0.780 1)" x="49.55" y="0">y</text></g>
<g transform="translate(12.20 529.85) rotate(-90)" font-family='"Liberation Sans", sans-serif' font-size="13.5" fill="#222" stroke="#222" stroke-width="0.1"><text transform="scale(0.721 1)" x="-52.17" y="0">S</text><text transform="scale(0.780 1)" x="-39.03" y="0">e</text><text transform="scale(0.780 1)" x="-30.22" y="0">n</text><text transform="scale(0.780 1)" x="-20.97" y="0">s</text><text transform="scale(0.780 1)" x="-10.32" y="0">i</text><text transform="scale(0.780 1)" x="-1.92" y="0">t</text><text transform="scale(0.780 1)" x="7.32" y="0">i</text><text transform="scale(0.780 1)" x="14.27" y="0">v</text><text transform="scale(0.780 1)" x="24.96" y="0">i</text><text transform="scale(0.780 1)" x="33.36" y="0">t</text><text transform="scale(0.780 1)" x="40.73" y="0">y</text></g>
<g transform="translate(175.55 395.90)" font-family='"Liberation Sans", sans-serif' font-size="13.5" fill="#222" stroke="#222" stroke-width="0.1"><text transform="scale(0.734 1)" x="-36.92" y="0">T</text><text transform="scale(0.780 1)" x="-25.80" y="0">e</text><text transform="scale(0.780 1)" x="-16.56" y="0">s</text><text transform="scale(0.780 1)" x="-6.33" y="0">t</text><text transform="scale(0.700 1)" x="9.63" y="0">R</text><text transform="scale(0.608 1)" x="23.05" y="0">O</text><text transform="scale(0.656 1)" x="31.77" y="0">C</text></g>
<rect x="150.10" y="642.50" width="148.90" height="9.30" rx="1.5" fill="#fff" fill-opacity="0.85" stroke="#d0d0d0" stroke-width="0.9"/>
<line x1="153.30" y1="647.10" x2="165.30" y2="647.10" stroke="#4C72B0" stroke-width="1.6" stroke-opacity="0.7"/>
<text transform="translate(169.50 648.80) scale(0.8 1)" x="0.05 3.73 7.41 11.56 15.08 17.52 21.36 25.66 29.18 31.47 34.83 38.52 43.28 46.66 49.56 53.08 56.76 60.05 63.66 67.08 70.71 74.23 77.76 82.06 84.81 88.33 90.92 94.92 99.68 103.21 106.58 109.48 112.90 116.53 120.06 123.58 127.11 130.63 134.05 137.68 141.21 144.73 148.88 152.41" y="0" font-family='"Liberation Sans", sans-serif' font-size="5.6" fill="#2a2a2a" stroke="#2a2a2a" stroke-width="0.22" xml:space="preserve">Test Set ROC (auc=0.927 95%CI (0.890–0.964))</text>
<path d="M369.40,653.60 L668.60,397.10" fill="none" stroke="#979797" stroke-width="1.4" stroke-dasharray="4.4,2.1" stroke-linejoin="round" stroke-linecap="butt"/>
<path d="M369.5,653.6 V604.3 H371.2 V588.5 H374 V550.1 H375 V545 H376 V540 H377.3 V532 H378.5 V511.7 H381.7 V501 H383.9 V484.6 H388.4 V479 H391.9 V468 H392.8 V456.9 H402 V451.7 H403.3 V446.1 H412 V440.8 H413.1 V435.2 H423.4 V424.5 H427.8 V418.9 H437 V413.3 H469.3 V407.8 H474.8 V402.4 H526.8 V397.2 H668.6" fill="none" stroke="#BF5444" stroke-width="1.5" stroke-linejoin="miter"/>
<path d="M354.40,384.20 V666.40 H683.60" fill="none" stroke="#3a3b3b" stroke-width="1.35" stroke-linejoin="miter"/>
<line x1="369.40" y1="666.40" x2="369.40" y2="671.00" stroke="#3a3b3b" stroke-width="1.1"/>
<line x1="354.40" y1="653.60" x2="349.80" y2="653.60" stroke="#3a3b3b" stroke-width="1.1"/>
<g transform="translate(369.40 680.90)" font-family='"Liberation Sans", sans-serif' font-size="8.5" fill="#3a3a3a" stroke="#3a3a3a" stroke-width="0.1"><text transform="scale(0.900 1)" x="-7.65" y="0">0</text><text transform="scale(0.900 1)" x="-2.51" y="0">.</text><text transform="scale(0.900 1)" x="2.91" y="0">0</text></g>
<g transform="translate(346.60 656.60)" font-family='"Liberation Sans", sans-serif' font-size="8.5" fill="#3a3a3a" stroke="#3a3a3a" stroke-width="0.1"><text transform="scale(0.900 1)" x="-15.56" y="0">0</text><text transform="scale(0.900 1)" x="-10.43" y="0">.</text><text transform="scale(0.900 1)" x="-5.01" y="0">0</text></g>
<line x1="429.24" y1="666.40" x2="429.24" y2="671.00" stroke="#3a3b3b" stroke-width="1.1"/>
<line x1="354.40" y1="602.30" x2="349.80" y2="602.30" stroke="#3a3b3b" stroke-width="1.1"/>
<g transform="translate(429.24 680.90)" font-family='"Liberation Sans", sans-serif' font-size="8.5" fill="#3a3a3a" stroke="#3a3a3a" stroke-width="0.1"><text transform="scale(0.900 1)" x="-7.65" y="0">0</text><text transform="scale(0.900 1)" x="-2.51" y="0">.</text><text transform="scale(0.900 1)" x="2.92" y="0">2</text></g>
<g transform="translate(346.60 605.30)" font-family='"Liberation Sans", sans-serif' font-size="8.5" fill="#3a3a3a" stroke="#3a3a3a" stroke-width="0.1"><text transform="scale(0.900 1)" x="-15.56" y="0">0</text><text transform="scale(0.900 1)" x="-10.43" y="0">.</text><text transform="scale(0.900 1)" x="-5.00" y="0">2</text></g>
<line x1="489.08" y1="666.40" x2="489.08" y2="671.00" stroke="#3a3b3b" stroke-width="1.1"/>
<line x1="354.40" y1="551.00" x2="349.80" y2="551.00" stroke="#3a3b3b" stroke-width="1.1"/>
<g transform="translate(489.08 680.90)" font-family='"Liberation Sans", sans-serif' font-size="8.5" fill="#3a3a3a" stroke="#3a3a3a" stroke-width="0.1"><text transform="scale(0.900 1)" x="-7.65" y="0">0</text><text transform="scale(0.900 1)" x="-2.51" y="0">.</text><text transform="scale(0.900 1)" x="2.94" y="0">4</text></g>
<g transform="translate(346.60 554.00)" font-family='"Liberation Sans", sans-serif' font-size="8.5" fill="#3a3a3a" stroke="#3a3a3a" stroke-width="0.1"><text transform="scale(0.900 1)" x="-15.56" y="0">0</text><text transform="scale(0.900 1)" x="-10.43" y="0">.</text><text transform="scale(0.900 1)" x="-4.98" y="0">4</text></g>
<line x1="548.92" y1="666.40" x2="548.92" y2="671.00" stroke="#3a3b3b" stroke-width="1.1"/>
<line x1="354.40" y1="499.70" x2="349.80" y2="499.70" stroke="#3a3b3b" stroke-width="1.1"/>
<g transform="translate(548.92 680.90)" font-family='"Liberation Sans", sans-serif' font-size="8.5" fill="#3a3a3a" stroke="#3a3a3a" stroke-width="0.1"><text transform="scale(0.900 1)" x="-7.65" y="0">0</text><text transform="scale(0.900 1)" x="-2.51" y="0">.</text><text transform="scale(0.900 1)" x="2.89" y="0">6</text></g>
<g transform="translate(346.60 502.70)" font-family='"Liberation Sans", sans-serif' font-size="8.5" fill="#3a3a3a" stroke="#3a3a3a" stroke-width="0.1"><text transform="scale(0.900 1)" x="-15.56" y="0">0</text><text transform="scale(0.900 1)" x="-10.43" y="0">.</text><text transform="scale(0.900 1)" x="-5.03" y="0">6</text></g>
<line x1="608.76" y1="666.40" x2="608.76" y2="671.00" stroke="#3a3b3b" stroke-width="1.1"/>
<line x1="354.40" y1="448.40" x2="349.80" y2="448.40" stroke="#3a3b3b" stroke-width="1.1"/>
<g transform="translate(608.76 680.90)" font-family='"Liberation Sans", sans-serif' font-size="8.5" fill="#3a3a3a" stroke="#3a3a3a" stroke-width="0.1"><text transform="scale(0.900 1)" x="-7.65" y="0">0</text><text transform="scale(0.900 1)" x="-2.51" y="0">.</text><text transform="scale(0.900 1)" x="2.92" y="0">8</text></g>
<g transform="translate(346.60 451.40)" font-family='"Liberation Sans", sans-serif' font-size="8.5" fill="#3a3a3a" stroke="#3a3a3a" stroke-width="0.1"><text transform="scale(0.900 1)" x="-15.56" y="0">0</text><text transform="scale(0.900 1)" x="-10.43" y="0">.</text><text transform="scale(0.900 1)" x="-5.00" y="0">8</text></g>
<line x1="668.60" y1="666.40" x2="668.60" y2="671.00" stroke="#3a3b3b" stroke-width="1.1"/>
<line x1="354.40" y1="397.10" x2="349.80" y2="397.10" stroke="#3a3b3b" stroke-width="1.1"/>
<g transform="translate(668.60 680.90)" font-family='"Liberation Sans", sans-serif' font-size="8.5" fill="#3a3a3a" stroke="#3a3a3a" stroke-width="0.1"><text transform="scale(0.900 1)" x="-7.75" y="0">1</text><text transform="scale(0.900 1)" x="-2.51" y="0">.</text><text transform="scale(0.900 1)" x="2.91" y="0">0</text></g>
<g transform="translate(346.60 400.10)" font-family='"Liberation Sans", sans-serif' font-size="8.5" fill="#3a3a3a" stroke="#3a3a3a" stroke-width="0.1"><text transform="scale(0.900 1)" x="-15.67" y="0">1</text><text transform="scale(0.900 1)" x="-10.43" y="0">.</text><text transform="scale(0.900 1)" x="-5.01" y="0">0</text></g>
<g transform="translate(519.00 692.40)" font-family='"Liberation Sans", sans-serif' font-size="9.5" fill="#222" stroke="#222" stroke-width="0.12"><text transform="scale(0.780 1)" x="-41.07" y="0">1</text><text transform="scale(0.778 1)" x="-34.66" y="0">–</text><text transform="scale(0.751 1)" x="-29.70" y="0">S</text><text transform="scale(0.780 1)" x="-21.91" y="0">p</text><text transform="scale(0.780 1)" x="-15.41" y="0">e</text><text transform="scale(0.780 1)" x="-8.83" y="0">c</text><text transform="scale(0.780 1)" x="-1.06" y="0">i</text><text transform="scale(0.780 1)" x="4.98" y="0">f</text><text transform="scale(0.780 1)" x="11.71" y="0">i</text><text transform="scale(0.780 1)" x="16.71" y="0">c</text><text transform="scale(0.780 1)" x="24.48" y="0">i</text><text transform="scale(0.780 1)" x="30.57" y="0">t</text><text transform="scale(0.780 1)" x="35.93" y="0">y</text></g>
<g transform="translate(328.10 525.90) rotate(-90)" font-family='"Liberation Sans", sans-serif' font-size="9.6" fill="#222" stroke="#222" stroke-width="0.12"><text transform="scale(0.743 1)" x="-37.19" y="0">S</text><text transform="scale(0.780 1)" x="-28.56" y="0">e</text><text transform="scale(0.780 1)" x="-22.10" y="0">n</text><text transform="scale(0.780 1)" x="-15.31" y="0">s</text><text transform="scale(0.780 1)" x="-7.54" y="0">i</text><text transform="scale(0.780 1)" x="-1.37" y="0">t</text><text transform="scale(0.780 1)" x="5.41" y="0">i</text><text transform="scale(0.780 1)" x="10.55" y="0">v</text><text transform="scale(0.780 1)" x="18.36" y="0">i</text><text transform="scale(0.780 1)" x="24.53" y="0">t</text><text transform="scale(0.780 1)" x="29.97" y="0">y</text></g>
<rect x="557.5" y="633.3" width="121.0" height="28.6" rx="2" fill="#fff" stroke="#d8d8d8" stroke-width="0.9"/>
<line x1="560.8" y1="641.2" x2="580" y2="641.2" stroke="#BF5444" stroke-width="1.5"/>
<line x1="560.8" y1="654.2" x2="580" y2="654.2" stroke="#979797" stroke-width="1.4" stroke-dasharray="4.4,2.1"/>
<g transform="translate(586.40 644.70)" font-family='"Liberation Sans", sans-serif' font-size="9.6" fill="#222" stroke="#222" stroke-width="0.12"><text transform="scale(0.669 1)" x="0.23" y="0">X</text><text transform="scale(0.639 1)" x="7.19" y="0">G</text><text transform="scale(0.780 1)" x="11.40" y="0">B</text><text transform="scale(0.780 1)" x="17.97" y="0">o</text><text transform="scale(0.780 1)" x="23.86" y="0">o</text><text transform="scale(0.780 1)" x="30.07" y="0">s</text><text transform="scale(0.780 1)" x="36.97" y="0">t</text><text transform="scale(0.780 1)" x="42.37" y="0">(</text><text transform="scale(0.629 1)" x="58.96" y="0">A</text><text transform="scale(0.734 1)" x="56.05" y="0">U</text><text transform="scale(0.659 1)" x="69.80" y="0">C</text><text transform="scale(0.780 1)" x="70.91" y="0">=</text><text transform="scale(0.780 1)" x="82.84" y="0">0</text><text transform="scale(0.780 1)" x="88.59" y="0">.</text><text transform="scale(0.780 1)" x="94.63" y="0">9</text><text transform="scale(0.780 1)" x="100.57" y="0">3</text><text transform="scale(0.780 1)" x="107.77" y="0">)</text></g>
<g transform="translate(586.40 657.50)" font-family='"Liberation Sans", sans-serif' font-size="9.6" fill="#222" stroke="#222" stroke-width="0.12"><text transform="scale(0.780 1)" x="0.16" y="0">b</text><text transform="scale(0.780 1)" x="5.98" y="0">a</text><text transform="scale(0.780 1)" x="12.38" y="0">s</text><text transform="scale(0.780 1)" x="17.98" y="0">e</text><text transform="scale(0.780 1)" x="25.47" y="0">l</text><text transform="scale(0.780 1)" x="31.37" y="0">i</text><text transform="scale(0.780 1)" x="35.66" y="0">n</text><text transform="scale(0.780 1)" x="41.57" y="0">e</text></g>
<text transform="translate(12.71 25.20) scale(1.0 1)" x="0" y="0" font-family='"Liberation Serif", serif' font-size="32.9" fill="#111" stroke="#fff" stroke-width="0.5" stroke-linejoin="round">(</text>
<text transform="translate(27.30 26.90) scale(0.93 1)" x="0" y="0" font-family='"Liberation Serif", serif' font-size="32.5" fill="#111" stroke="#fff" stroke-width="0.5" stroke-linejoin="round">A</text>
<text transform="translate(51.49 25.20) scale(1.0 1)" x="0" y="0" font-family='"Liberation Serif", serif' font-size="32.9" fill="#111" stroke="#fff" stroke-width="0.5" stroke-linejoin="round">)</text>
<text transform="translate(332.71 25.20) scale(1.0 1)" x="0" y="0" font-family='"Liberation Serif", serif' font-size="32.9" fill="#111" stroke="#fff" stroke-width="0.5" stroke-linejoin="round">(</text>
<text transform="translate(347.80 26.90) scale(0.823 1)" x="0" y="0" font-family='"Liberation Serif", serif' font-size="32.4" fill="#111" stroke="#fff" stroke-width="0.5" stroke-linejoin="round">B</text>
<text transform="translate(367.69 25.20) scale(1.0 1)" x="0" y="0" font-family='"Liberation Serif", serif' font-size="32.9" fill="#111" stroke="#fff" stroke-width="0.5" stroke-linejoin="round">)</text>
<text transform="translate(12.71 377.10) scale(1.0 1)" x="0" y="0" font-family='"Liberation Serif", serif' font-size="32.9" fill="#111" stroke="#fff" stroke-width="0.5" stroke-linejoin="round">(</text>
<text transform="translate(27.20 378.60) scale(1.093 1)" x="0" y="0" font-family='"Liberation Serif", serif' font-size="32.9" fill="#111" stroke="#fff" stroke-width="0.5" stroke-linejoin="round">C</text>
<text transform="translate(51.49 377.10) scale(1.0 1)" x="0" y="0" font-family='"Liberation Serif", serif' font-size="32.9" fill="#111" stroke="#fff" stroke-width="0.5" stroke-linejoin="round">)</text>
<text transform="translate(332.71 377.10) scale(1.0 1)" x="0" y="0" font-family='"Liberation Serif", serif' font-size="32.9" fill="#111" stroke="#fff" stroke-width="0.5" stroke-linejoin="round">(</text>
<text transform="translate(347.60 378.80) scale(1.043 1)" x="0" y="0" font-family='"Liberation Serif", serif' font-size="32.4" fill="#111" stroke="#fff" stroke-width="0.5" stroke-linejoin="round">D</text>
<text transform="translate(373.39 377.10) scale(1.0 1)" x="0" y="0" font-family='"Liberation Serif", serif' font-size="32.9" fill="#111" stroke="#fff" stroke-width="0.5" stroke-linejoin="round">)</text>
</svg>
</body></html>
